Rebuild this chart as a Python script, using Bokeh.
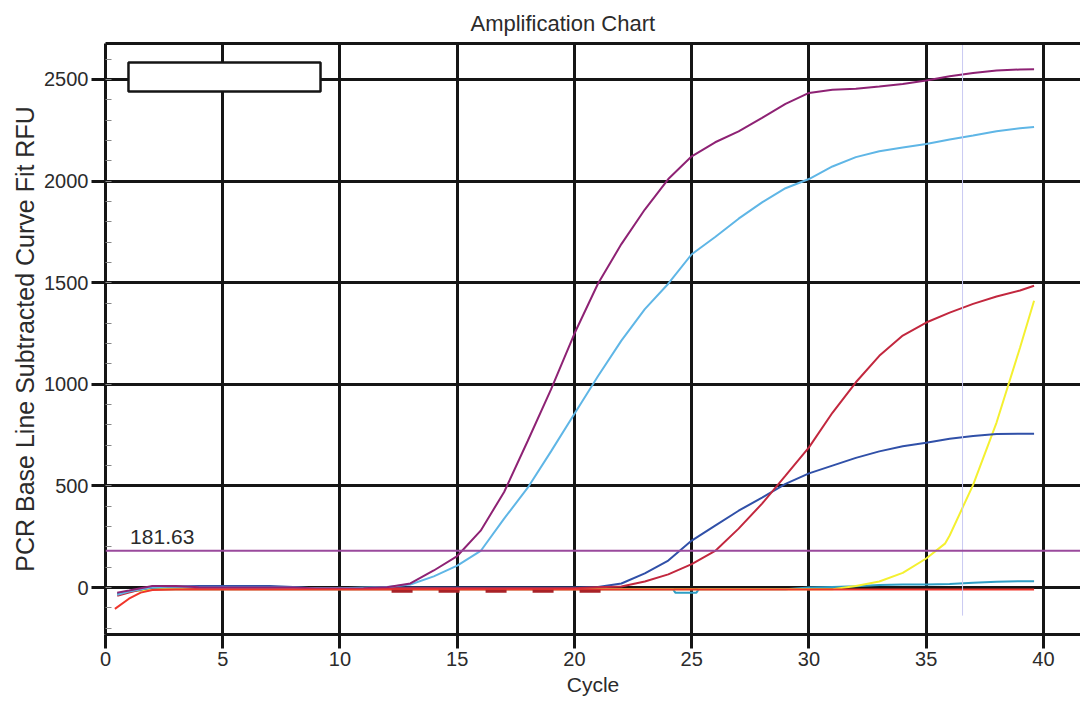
from bokeh.plotting import figure
from bokeh.models import Range1d, LinearAxis, FixedTicker, Span, Label, BoxAnnotation
from bokeh.embed import file_html
from bokeh.resources import INLINE

# ---------------- data ----------------
cycles = [0.5] + list(range(1, 40)) + [39.6]

purple_rfu = [-25, -15, 8, 8, 2, 0, 0, 0, 0, -5, -5, -3, 2, 20, 84, 155, 280, 470, 720, 975,
              1250, 1495, 1690, 1860, 2010, 2122, 2191, 2245, 2311, 2380, 2434, 2449, 2454,
              2465, 2478, 2495, 2516, 2532, 2544, 2549, 2550]

lightblue_rfu = [-35, -20, 2, 5, 2, 0, 0, 0, 0, -3, -3, 0, 3, 15, 55, 108, 180, 339, 490, 670,
                 855, 1040, 1215, 1370, 1495, 1640, 1725, 1815, 1895, 1965, 2010, 2072, 2118,
                 2147, 2165, 2183, 2205, 2224, 2245, 2260, 2266]

darkblue_rfu = [-30, -20, 0, 5, 8, 8, 8, 8, 3, -5, -5, -3, 0, 0, 0, 0, 0, 0, 0, 0,
                0, 3, 20, 70, 133, 231, 305, 378, 443, 510, 562, 600, 638, 670, 695, 712,
                732, 746, 756, 757, 757]

red_rfu = [-40, -25, 5, 5, -3, -3, -3, -3, -3, -3, -3, -3, -3, -3, -3, -3, -3, -3, -3, -3,
           -3, 2, 5, 30, 65, 115, 180, 290, 413, 551, 690, 860, 1010, 1140, 1240, 1304,
           1353, 1396, 1432, 1462, 1485]

yellow_cycles = [0.5, 1, 2, 31, 32, 33, 34, 35, 35.8, 36, 37, 38, 39, 39.6]
yellow_rfu = [-30, -20, -8, -8, 8, 30, 72, 143, 216, 256, 505, 812, 1180, 1411]

teal_cycles = [0.5, 1, 2, 24.2, 24.3, 25.2, 25.3, 29, 30, 31, 32, 33, 34, 35, 36, 37, 38, 39, 39.6]
teal_rfu = [-30, -20, -8, -8, -25, -25, -8, -8, 0, 3, 6, 12, 15, 15, 18, 24, 28, 31, 31]

baseline_cycles = [0.4, 1, 1.5, 2, 3, 39.6]
baseline_rfu = [-105, -55, -25, -12, -9, -9]

ntc_cycles = [12.2, 22.1]
ntc_rfu = [-18, -18]

threshold = 181.63
cursor_cycle = 36.55

x_ticks = [0, 5, 10, 15, 20, 25, 30, 35, 40]
y_ticks = [0, 500, 1000, 1500, 2000, 2500]
y_minor = list(range(-200, 2700, 100))

# ---------------- styling ----------------
FONT = "Liberation Sans"
TXT = "#2b2b2b"
GRID = "#151515"
Y0, Y1 = -231, 2677

p = figure(width=1080, height=702, output_backend="svg", toolbar_location=None,
           x_range=Range1d(0, 41.58), y_range=Range1d(Y0, Y1),
           min_border_left=105, min_border_right=0, min_border_top=43, min_border_bottom=68,
           background_fill_color="white", border_fill_color="white")
p.outline_line_color = None

p.title.text = "Amplification Chart"
p.title.align = "left"
p.title.offset = 365
p.title.text_font = FONT
p.title.text_font_size = "22px"
p.title.text_font_style = "normal"
p.title.text_color = TXT
p.title.standoff = 16

xt = FixedTicker(ticks=x_ticks)
yt = FixedTicker(ticks=y_ticks, minor_ticks=y_minor)

xa = p.xaxis[0]
xa.ticker = xt
xa.axis_label = "Cycle"
ya = p.yaxis[0]
ya.ticker = yt
ya.axis_label = "PCR Base Line Subtracted Curve Fit RFU"

for ax in (xa, ya):
    ax.axis_line_color = GRID
    ax.axis_line_width = 3
    ax.major_tick_line_color = GRID
    ax.major_tick_line_width = 3
    ax.major_tick_out = 14
    ax.major_tick_in = 0
    ax.major_label_text_font = FONT
    ax.major_label_text_font_size = "20px"
    ax.major_label_text_color = TXT
    ax.major_label_standoff = 3
    ax.axis_label_text_font = FONT
    ax.axis_label_text_font_style = "normal"
    ax.axis_label_text_color = TXT
    ax.axis_label_standoff = 2

xa.minor_tick_line_color = None
xa.axis_label_text_font_size = "21px"
xa.axis_label_standoff = 4
ya.minor_tick_in = 6
ya.minor_tick_out = 0
ya.minor_tick_line_color = "#888888"
ya.minor_tick_line_width = 1
ya.axis_label_text_font_size = "25px"

top = LinearAxis(ticker=FixedTicker(ticks=[]), major_label_text_font_size="0px",
                 axis_line_color=GRID, axis_line_width=3, major_tick_out=0,
                 minor_tick_out=0, major_label_standoff=0)
p.add_layout(top, "above")

p.xgrid.ticker = xt
p.ygrid.ticker = yt
for g in (p.xgrid[0], p.ygrid[0]):
    g.grid_line_color = GRID
    g.grid_line_width = 3

# curves
p.line(teal_cycles, teal_rfu, line_color="#2E9EC4", line_width=2)
p.line(yellow_cycles, yellow_rfu, line_color="#F4F030", line_width=2)
p.line(cycles, darkblue_rfu, line_color="#3050A8", line_width=2)
p.line(cycles, red_rfu, line_color="#C2273E", line_width=2)
p.line(cycles, lightblue_rfu, line_color="#5FB6E6", line_width=2)
p.line(cycles, purple_rfu, line_color="#8E2274", line_width=2)
p.line(baseline_cycles, baseline_rfu, line_color="#F0352B", line_width=2)
p.line(ntc_cycles, ntc_rfu, line_color="#A82228", line_width=3, line_dash="21 26")

p.segment(x0=[cursor_cycle], y0=[Y1], x1=[cursor_cycle], y1=[-138],
          line_color="#C9C9F2", line_width=1)

p.add_layout(Span(location=threshold, dimension="width", line_color="#9A4A9C", line_width=2))
p.add_layout(Label(x=1.05, y=threshold + 69, text=f"{threshold:.2f}",
                   text_font=FONT, text_font_size="21px", text_color=TXT,
                   text_baseline="alphabetic"))

# empty legend box
p.add_layout(BoxAnnotation(left=0.98, right=9.17, bottom=2441, top=2584,
                           fill_color="white", fill_alpha=1.0,
                           line_color=GRID, line_width=2.5, line_alpha=1.0))

open("out.html", "w").write(file_html(p, INLINE))
